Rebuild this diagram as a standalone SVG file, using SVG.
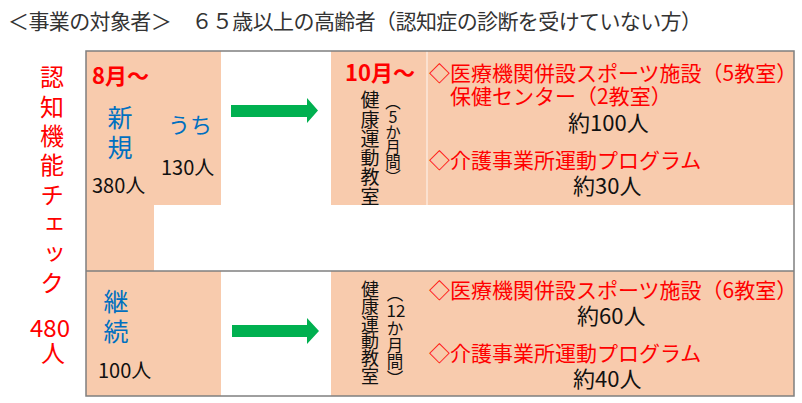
<svg xmlns="http://www.w3.org/2000/svg" width="802" height="403" viewBox="0 0 802 403">
<style>
  text { font-family: "Noto Sans CJK JP", "Noto Sans", sans-serif; }
  .red { fill: #ff0000; }
  .blue { fill: #0070c0; }
  .blk { fill: #111111; }
  .ttl { fill: #333333; }
  .bold { font-weight: bold; }
  .vt { writing-mode: vertical-rl; text-orientation: upright; }
  .fill { fill: #f8cbad; }
  .arrow { fill: #00b050; }
</style>
<defs>
  <clipPath id="clipTop"><rect x="331" y="51" width="96" height="154"/></clipPath>
</defs>
<rect width="802" height="403" fill="#ffffff"/>

<text id="title" class="ttl" x="8" y="29" font-size="21" textLength="694" lengthAdjust="spacing">＜事業の対象者＞　６５歳以上の高齢者（認知症の診断を受けていない方）</text>

<g id="frame">
  <path class="fill" d="M86 51H221V205H154V271H86Z"/>
  <rect class="fill" x="331" y="51" width="463" height="154"/>
  <rect class="fill" x="86" y="271" width="135" height="125"/>
  <rect class="fill" x="331" y="271" width="463" height="125"/>
  <line x1="427" y1="51" x2="427" y2="205" stroke="#fde9dc" stroke-width="1.5"/>
  <rect x="86" y="51" width="708" height="345" fill="none" stroke="#7f7f7f" stroke-width="1.5"/>
  <line x1="86" y1="271" x2="794" y2="271" stroke="#7f7f7f" stroke-width="1.5"/>
</g>

<g id="check">
  <text class="red vt" x="52" y="65" font-size="24" letter-spacing="5.4">認知機能チェック</text>
  <text class="red" x="50" y="337" font-size="24" text-anchor="middle">480</text>
  <text class="red" x="53" y="362" font-size="24" text-anchor="middle">人</text>
</g>

<g id="new">
  <text class="red bold" x="92" y="84" font-size="22">8月～</text>
  <text class="blue vt" x="120" y="104.5" font-size="25" letter-spacing="5">新規</text>
  <text class="blue" x="168" y="133" font-size="22">うち</text>
  <text class="blk" x="161" y="175" font-size="20">130人</text>
  <text class="blk" x="92" y="193" font-size="20">380人</text>
</g>

<g id="continue">
  <text class="blue vt" x="116" y="289" font-size="25" letter-spacing="5">継続</text>
  <text class="blk" x="98" y="378" font-size="20">100人</text>
</g>

<g id="connectors">
  <polygon class="arrow" points="231,105 307,105 307,98 318,110.5 307,123 307,117 231,117"/>
  <polygon class="arrow" points="232,325 307,325 307,318 319,331 307,344 307,337 232,337"/>
</g>

<g id="class-top">
  <text class="red bold" x="345" y="81" font-size="22">10月～</text>
  <g clip-path="url(#clipTop)">
    <text class="blk vt" x="370" y="90.5" font-size="19" letter-spacing="0.3">健康運動教室</text>
  </g>
  <text class="blk vt" x="393" y="94.5" font-size="15.5">（</text>
  <text class="blk" x="393" y="122.5" font-size="16" text-anchor="middle">5</text>
  <text class="blk vt" x="393" y="124" font-size="15.5" letter-spacing="-0.5">か月間）</text>
  <text class="red" x="429" y="81" font-size="21">◇医療機関併設スポーツ施設（5教室）</text>
  <text class="red" x="450" y="104" font-size="21">保健センター（2教室）</text>
  <text class="blk" x="568" y="131" font-size="22">約100人</text>
  <text class="red" x="429" y="168" font-size="21">◇介護事業所運動プログラム</text>
  <text class="blk" x="573" y="194" font-size="22">約30人</text>
</g>

<g id="class-bottom">
  <text class="blk vt" x="370" y="280" font-size="18" letter-spacing="-0.6">健康運動教室</text>
  <text class="blk vt" x="395" y="285" font-size="16.5">（</text>
  <text class="blk" x="396" y="317" font-size="17" text-anchor="middle">12</text>
  <text class="blk vt" x="395" y="320.5" font-size="16.5">か月間）</text>
  <text class="red" x="429" y="298" font-size="21">◇医療機関併設スポーツ施設（6教室）</text>
  <text class="blk" x="577" y="324" font-size="22">約60人</text>
  <text class="red" x="429" y="361" font-size="21">◇介護事業所運動プログラム</text>
  <text class="blk" x="573" y="387" font-size="22">約40人</text>
</g>
</svg>
